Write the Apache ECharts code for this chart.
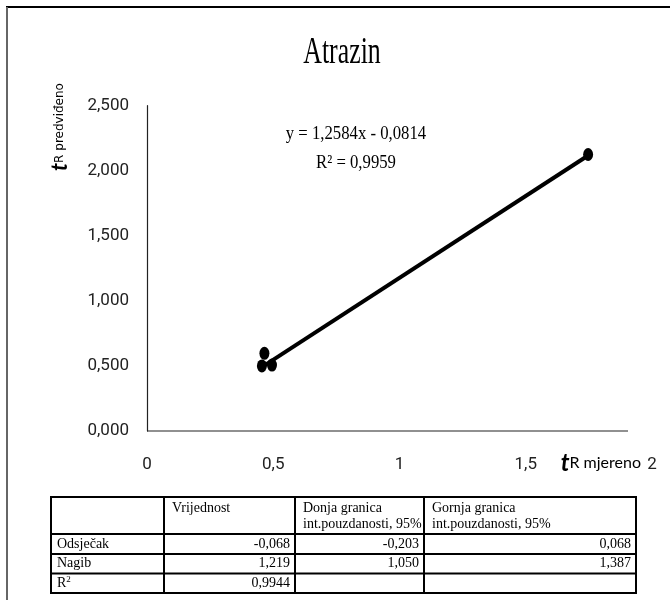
<!DOCTYPE html>
<html><head><meta charset="utf-8">
<script src="https://cdn.jsdelivr.net/npm/echarts@6/dist/echarts.min.js"></script>
<style>html,body{margin:0;padding:0;background:#fff}#c{width:670px;height:605px}</style>
</head><body><div id="c"></div>
<script>
// ---- data ----
const chartTitle = 'Atrazin';
const measured  = [0.455, 0.465, 0.495, 1.747];
const predicted = [0.500, 0.597, 0.507, 2.125];
const trendX = [0.455, 1.747];
const trendY = [0.491, 2.117];
const equationText = 'y = 1,2584x - 0,0814';
const r2Text = 'R² = 0,9959';
const xTicks = ['0', '0,5', '1', '1,5', '2'];
const yTicks = ['0,000', '0,500', '1,000', '1,500', '2,000', '2,500'];
const xAxisName = ['t', 'R mjereno'];
const yAxisName = ['t', 'R predviđeno'];
const tableHeader = ['', 'Vrijednost', 'Donja granica\nint.pouzdanosti, 95%', 'Gornja granica\nint.pouzdanosti, 95%'];
const rowLabels = ['Odsječak', 'Nagib', 'R2'];
const colValue = ['-0,068', '1,219', '0,9944'];
const colLower = ['-0,203', '1,050', ''];
const colUpper = ['0,068', '1,387', ''];

// ---- layout ----
const colEdges = [51, 164, 295, 424, 636];
const rowEdges = [497, 534, 554, 573.5, 593];
const serif = '"Liberation Serif", "Times New Roman", serif';
const sans = 'Roboto, "Liberation Sans", sans-serif';
const lato = 'Lato, Roboto, sans-serif';

const graphic = [];
// page frame
graphic.push({type:'line', shape:{x1:6, y1:7, x2:670, y2:7}, style:{stroke:'#000', lineWidth:2}});
graphic.push({type:'line', shape:{x1:7, y1:7, x2:7, y2:600}, style:{stroke:'#666', lineWidth:2}});
// x axis line (shorter than the axis extent as in reference)
graphic.push({type:'line', shape:{x1:147, y1:431, x2:628, y2:431}, style:{stroke:'#222', lineWidth:1.2}});
// title
graphic.push({type:'text', x:342, y:53.5, scaleX:0.68, style:{text:chartTitle, font:'38px ' + serif, fill:'#000', align:'center', verticalAlign:'middle'}});
// equation
graphic.push({type:'text', x:356, y:134.5, scaleX:0.88, style:{text:equationText, font:'19px ' + serif, fill:'#000', align:'center', verticalAlign:'middle'}});
graphic.push({type:'text', x:356, y:163.5, scaleX:0.88, style:{text:r2Text, font:'19px ' + serif, fill:'#000', align:'center', verticalAlign:'middle'}});
// axis names
graphic.push({type:'text', x:641, y:475, style:{
  text:'{t|' + xAxisName[0] + '}{s|' + xAxisName[1] + '}', align:'right', verticalAlign:'bottom',
  rich:{t:{fontSize:24, fontStyle:'italic', fontWeight:'bold', fontFamily:lato, fill:'#000'}, s:{fontSize:16, fontFamily:lato, fill:'#000'}}}});
graphic.push({type:'text', x:60, y:127, rotation:Math.PI/2, style:{
  text:'{t|' + yAxisName[0] + '}{s|' + yAxisName[1] + '}', align:'center', verticalAlign:'middle',
  rich:{t:{fontSize:22, fontStyle:'italic', fontWeight:'bold', fontFamily:lato, fill:'#000'}, s:{fontSize:12, fontFamily:'"DejaVu Sans", sans-serif', fill:'#000'}}}});
// table lines
colEdges.forEach(x => graphic.push({type:'line', shape:{x1:x, y1:rowEdges[0], x2:x, y2:rowEdges[rowEdges.length-1]}, style:{stroke:'#000', lineWidth:2}}));
rowEdges.forEach(y => graphic.push({type:'line', shape:{x1:colEdges[0]-1, y1:y, x2:colEdges[colEdges.length-1]+1, y2:y}, style:{stroke:'#000', lineWidth:2}}));
// header text
tableHeader.forEach((h, i) => {
  if (!h) return;
  graphic.push({type:'text', x:colEdges[i] + 8, y:rowEdges[0] + 3, style:{text:h, font:'14px ' + serif, lineHeight:16, fill:'#000', align:'left', verticalAlign:'top'}});
});
// rows
rowLabels.forEach((lab, r) => {
  const yc = (rowEdges[r+1] + rowEdges[r+2]) / 2;
  const txt = lab === 'R2' ? '{n|R}{sup|2}' : '{n|' + lab + '}';
  graphic.push({type:'text', x:colEdges[0] + 6, y:yc, style:{text:txt, align:'left', verticalAlign:'middle',
    rich:{n:{fontSize:14, fontFamily:serif, fill:'#000', lineHeight:16}, sup:{fontSize:9, fontFamily:serif, fill:'#000', verticalAlign:'top', lineHeight:16}}}});
  [colValue, colLower, colUpper].forEach((col, c) => {
    if (!col[r]) return;
    graphic.push({type:'text', x:colEdges[c+2] - 5, y:yc, style:{text:col[r], font:'14px ' + serif, fill:'#000', align:'right', verticalAlign:'middle'}});
  });
});

const chart = echarts.init(document.getElementById('c'));
chart.setOption({
  animation:false,
  backgroundColor:'#fff',
  grid:{left:147, right:18, top:105.7, bottom:174},
  xAxis:{type:'value', min:0, max:2, interval:0.5,
    axisLine:{show:false}, axisTick:{show:false}, splitLine:{show:false},
    axisLabel:{margin:25, fontFamily:sans, fontSize:17, color:'#222',
      formatter:(v) => xTicks[Math.round(v / 0.5)]}},
  yAxis:{type:'value', min:0, max:2.5, interval:0.5,
    axisLine:{show:true, lineStyle:{color:'#222', width:1.2}}, axisTick:{show:false}, splitLine:{show:false},
    axisLabel:{margin:18, fontFamily:sans, fontSize:17, color:'#222',
      formatter:(v) => yTicks[Math.round(v / 0.5)]}},
  series:[
    {type:'line', data:trendX.map((x, i) => [x, trendY[i]]), showSymbol:false, symbol:'none',
      lineStyle:{color:'#000', width:4, opacity:1}, z:2},
    {type:'scatter', data:measured.map((x, i) => [x, predicted[i]]), symbol:'circle', symbolSize:[10,13],
      itemStyle:{color:'#000', opacity:1}, z:3}
  ],
  graphic: graphic
});
</script></body></html>
